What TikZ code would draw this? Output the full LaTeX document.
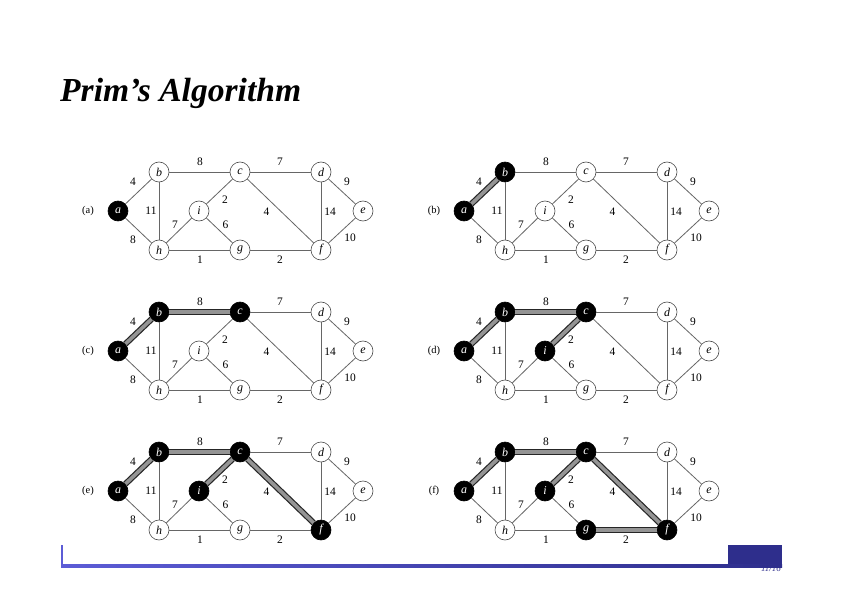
\documentclass[tikz,border=0pt]{standalone}
\usepackage{fontspec}
\setmainfont{Liberation Serif}
\definecolor{footblue}{HTML}{5C5CD6}
\definecolor{footnavy}{HTML}{2E2E8C}
\tikzset{
  wn/.style={circle,draw=black!70,line width=0.6bp,fill=white,minimum size=20bp,inner sep=0pt,font=\fontsize{12}{14}\selectfont\itshape},
  bn/.style={wn,fill=black,draw=black,text=white},
  na/.style=wn,nb/.style=wn,nc/.style=wn,nd/.style=wn,ne/.style=wn,
  nf/.style=wn,ng/.style=wn,nh/.style=wn,ni/.style=wn,
  edge/.style={draw=black!60,line width=0.8bp},
  tree/.style={draw=black!85,line width=1.2bp,double=black!42,double distance=3.6bp},
  wt/.style={font=\fontsize{11.5}{13}\selectfont,inner sep=0pt},
  plab/.style={font=\fontsize{10.5}{12}\selectfont,inner sep=0pt}
}
\newcommand\primpanel[5]{%
\begin{scope}[shift={(#2,#3)}]
  \node[na] (#1a) at (118,211) {a};
  \node[nb] (#1b) at (159,172) {b};
  \node[nc] (#1c) at (240,172) {c};
  \node[nd] (#1d) at (321,172) {d};
  \node[ne] (#1e) at (363,211) {e};
  \node[ni] (#1i) at (199,211) {i};
  \node[nh] (#1h) at (159,250) {h};
  \node[ng] (#1g) at (240,250) {g};
  \node[nf] (#1f) at (321,250) {f};
  \draw[edge] (#1a) -- (#1b);
  \draw[edge] (#1a) -- (#1h);
  \draw[edge] (#1b) -- (#1c);
  \draw[edge] (#1b) -- (#1h);
  \draw[edge] (#1c) -- (#1d);
  \draw[edge] (#1c) -- (#1i);
  \draw[edge] (#1c) -- (#1f);
  \draw[edge] (#1d) -- (#1e);
  \draw[edge] (#1d) -- (#1f);
  \draw[edge] (#1e) -- (#1f);
  \draw[edge] (#1i) -- (#1h);
  \draw[edge] (#1i) -- (#1g);
  \draw[edge] (#1h) -- (#1g);
  \draw[edge] (#1g) -- (#1f);
  \foreach \u/\v in {#5} {\draw[tree] (#1\u) -- (#1\v);}
  \node[plab] (#1lab) at (88,211) {(#4)};
  \node[wt] (#1w1) at (133,182) {4};
  \node[wt] (#1w2) at (200,161.5) {8};
  \node[wt] (#1w3) at (280,161.5) {7};
  \node[wt] (#1w4) at (347,182) {9};
  \node[wt] (#1w5) at (151,211) {11};
  \node[wt] (#1w6) at (225,200) {2};
  \node[wt] (#1w7) at (266.5,211.5) {4};
  \node[wt] (#1w8) at (330,211.5) {14};
  \node[wt] (#1w9) at (350,237.5) {10};
  \node[wt] (#1w10) at (175,225) {7};
  \node[wt] (#1w11) at (225.5,225) {6};
  \node[wt] (#1w12) at (133,239.5) {8};
  \node[wt] (#1w13) at (200,259.5) {1};
  \node[wt] (#1w14) at (280,259.5) {2};
\end{scope}}
\begin{document}
\begin{tikzpicture}[x=1bp,y=-1bp]
\useasboundingbox[fill=white] (0,0) rectangle (842,595);
\node[anchor=base west,inner sep=0pt] (title) at (60,101.5)
  {\fontsize{33.7}{38}\selectfont\bfseries\itshape Prim’s Algorithm};
\begin{scope}[na/.style=bn]
  \primpanel{A}{0}{0}{a}{}
\end{scope}
\begin{scope}[na/.style=bn,nb/.style=bn]
  \primpanel{B}{346}{0}{b}{a/b}
\end{scope}
\begin{scope}[na/.style=bn,nb/.style=bn,nc/.style=bn]
  \primpanel{C}{0}{140}{c}{a/b,b/c}
\end{scope}
\begin{scope}[na/.style=bn,nb/.style=bn,nc/.style=bn,ni/.style=bn]
  \primpanel{D}{346}{140}{d}{a/b,b/c,c/i}
\end{scope}
\begin{scope}[na/.style=bn,nb/.style=bn,nc/.style=bn,ni/.style=bn,nf/.style=bn]
  \primpanel{E}{0}{280}{e}{a/b,b/c,c/i,c/f}
\end{scope}
\begin{scope}[na/.style=bn,nb/.style=bn,nc/.style=bn,ni/.style=bn,nf/.style=bn,ng/.style=bn]
  \primpanel{F}{346}{280}{f}{a/b,b/c,c/i,c/f,f/g}
\end{scope}
% footer
\fill[footnavy] (728,545) rectangle (782,565);
\shade[left color=footblue,right color=footnavy] (61,564.5) rectangle (782,567);
\fill[footblue] (60.5,545) rectangle (63,567);
\node[anchor=north east,inner sep=0pt,text=footnavy,font=\fontsize{9}{10}\selectfont\itshape] (pg) at (781,565.5) {11/16};
\end{tikzpicture}
\end{document}
